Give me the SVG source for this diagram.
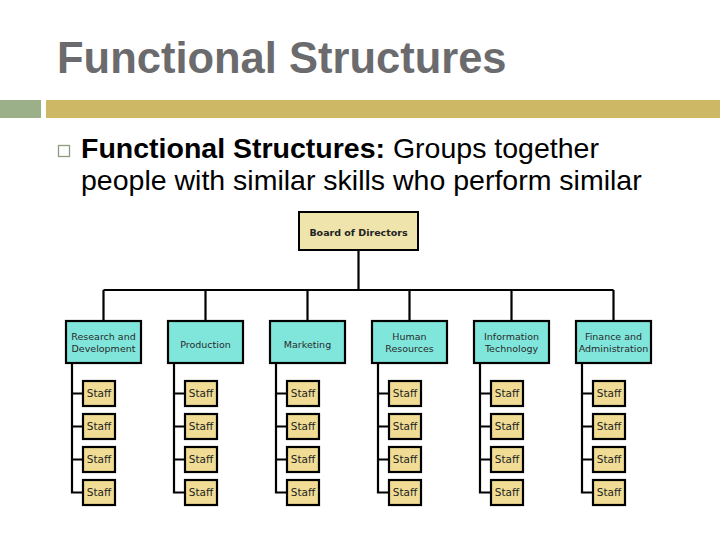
<svg xmlns="http://www.w3.org/2000/svg" width="720" height="540" viewBox="0 0 720 540">
<style>
.title{font-family:"Liberation Sans",Arial,sans-serif;font-weight:bold;font-size:43.5px;fill:#6b6b6e}
.body{font-family:"Liberation Sans",Arial,sans-serif;font-size:28.5px;fill:#000}
.dept rect{fill:#80e6dc;stroke:#000;stroke-width:2.2}
.staff rect{fill:#f0dc94;stroke:#000;stroke-width:2.2}
.board rect{fill:#eee4ac;stroke:#000;stroke-width:2}
.lbl{font-family:"DejaVu Sans",Verdana,sans-serif;font-size:9.5px;fill:#2a2a2a;text-anchor:middle}
.slbl{font-family:"DejaVu Sans",Verdana,sans-serif;font-size:10.5px;fill:#222;text-anchor:middle}
.blbl{font-family:"DejaVu Sans",Verdana,sans-serif;font-size:9.5px;font-weight:bold;fill:#222;text-anchor:middle}
.conn{fill:none;stroke:#000;stroke-width:2.2}
</style>
<rect width="720" height="540" fill="#fff"/>
<text class="title" x="57" y="73">Functional Structures</text>
<rect x="0" y="100" width="41" height="18" fill="#9baf88"/>
<rect x="46" y="100" width="674" height="18" fill="#cdb866"/>
<rect x="58.5" y="145.5" width="11" height="11" fill="none" stroke="#8e9a7e" stroke-width="1.3"/>
<text class="body" x="81" y="158"><tspan font-weight="bold">Functional Structures:</tspan> Groups together</text>
<text class="body" x="81" y="190">people with similar skills who perform similar</text>

<g id="connectors">
  <path class="conn" d="M358.5 250V290" stroke-width="1.3"/>
  <path class="conn" d="M103.5 290H613.5M103.5 290V321M205.5 290V321M307.5 290V321M409.5 290V321M511.5 290V321M613.5 290V321"/>
  <path class="conn" d="M72 363V492.5H83M72 393.5H83M72 426.5H83M72 459.5H83"/>
  <path class="conn" d="M174 363V492.5H185M174 393.5H185M174 426.5H185M174 459.5H185"/>
  <path class="conn" d="M276 363V492.5H287M276 393.5H287M276 426.5H287M276 459.5H287"/>
  <path class="conn" d="M378 363V492.5H389M378 393.5H389M378 426.5H389M378 459.5H389"/>
  <path class="conn" d="M480 363V492.5H491M480 393.5H491M480 426.5H491M480 459.5H491"/>
  <path class="conn" d="M582 363V492.5H593M582 393.5H593M582 426.5H593M582 459.5H593"/>
</g>

<g id="board" class="board"><rect x="299" y="212" width="119" height="38"/><text class="blbl" x="358.5" y="236">Board of Directors</text></g>

<g id="rd" class="dept"><rect x="66" y="321" width="75" height="42"/><text class="lbl" x="103.5" y="340">Research and</text><text class="lbl" x="103.5" y="352">Development</text></g>
<g id="production" class="dept"><rect x="168" y="321" width="75" height="42"/><text class="lbl" x="205.5" y="348">Production</text></g>
<g id="marketing" class="dept"><rect x="270" y="321" width="75" height="42"/><text class="lbl" x="307.5" y="348">Marketing</text></g>
<g id="hr" class="dept"><rect x="372" y="321" width="75" height="42"/><text class="lbl" x="409.5" y="340">Human</text><text class="lbl" x="409.5" y="352">Resources</text></g>
<g id="it" class="dept"><rect x="474" y="321" width="75" height="42"/><text class="lbl" x="511.5" y="340">Information</text><text class="lbl" x="511.5" y="352">Technology</text></g>
<g id="fa" class="dept"><rect x="576" y="321" width="75" height="42"/><text class="lbl" x="613.5" y="340">Finance and</text><text class="lbl" x="613.5" y="352">Administration</text></g>

<g id="s1-1" class="staff"><rect x="83" y="381" width="32" height="25"/><text class="slbl" x="99" y="397">Staff</text></g>
<g id="s1-2" class="staff"><rect x="83" y="414" width="32" height="25"/><text class="slbl" x="99" y="430">Staff</text></g>
<g id="s1-3" class="staff"><rect x="83" y="447" width="32" height="25"/><text class="slbl" x="99" y="463">Staff</text></g>
<g id="s1-4" class="staff"><rect x="83" y="480" width="32" height="25"/><text class="slbl" x="99" y="496">Staff</text></g>

<g id="s2-1" class="staff"><rect x="185" y="381" width="32" height="25"/><text class="slbl" x="201" y="397">Staff</text></g>
<g id="s2-2" class="staff"><rect x="185" y="414" width="32" height="25"/><text class="slbl" x="201" y="430">Staff</text></g>
<g id="s2-3" class="staff"><rect x="185" y="447" width="32" height="25"/><text class="slbl" x="201" y="463">Staff</text></g>
<g id="s2-4" class="staff"><rect x="185" y="480" width="32" height="25"/><text class="slbl" x="201" y="496">Staff</text></g>

<g id="s3-1" class="staff"><rect x="287" y="381" width="32" height="25"/><text class="slbl" x="303" y="397">Staff</text></g>
<g id="s3-2" class="staff"><rect x="287" y="414" width="32" height="25"/><text class="slbl" x="303" y="430">Staff</text></g>
<g id="s3-3" class="staff"><rect x="287" y="447" width="32" height="25"/><text class="slbl" x="303" y="463">Staff</text></g>
<g id="s3-4" class="staff"><rect x="287" y="480" width="32" height="25"/><text class="slbl" x="303" y="496">Staff</text></g>

<g id="s4-1" class="staff"><rect x="389" y="381" width="32" height="25"/><text class="slbl" x="405" y="397">Staff</text></g>
<g id="s4-2" class="staff"><rect x="389" y="414" width="32" height="25"/><text class="slbl" x="405" y="430">Staff</text></g>
<g id="s4-3" class="staff"><rect x="389" y="447" width="32" height="25"/><text class="slbl" x="405" y="463">Staff</text></g>
<g id="s4-4" class="staff"><rect x="389" y="480" width="32" height="25"/><text class="slbl" x="405" y="496">Staff</text></g>

<g id="s5-1" class="staff"><rect x="491" y="381" width="32" height="25"/><text class="slbl" x="507" y="397">Staff</text></g>
<g id="s5-2" class="staff"><rect x="491" y="414" width="32" height="25"/><text class="slbl" x="507" y="430">Staff</text></g>
<g id="s5-3" class="staff"><rect x="491" y="447" width="32" height="25"/><text class="slbl" x="507" y="463">Staff</text></g>
<g id="s5-4" class="staff"><rect x="491" y="480" width="32" height="25"/><text class="slbl" x="507" y="496">Staff</text></g>

<g id="s6-1" class="staff"><rect x="593" y="381" width="32" height="25"/><text class="slbl" x="609" y="397">Staff</text></g>
<g id="s6-2" class="staff"><rect x="593" y="414" width="32" height="25"/><text class="slbl" x="609" y="430">Staff</text></g>
<g id="s6-3" class="staff"><rect x="593" y="447" width="32" height="25"/><text class="slbl" x="609" y="463">Staff</text></g>
<g id="s6-4" class="staff"><rect x="593" y="480" width="32" height="25"/><text class="slbl" x="609" y="496">Staff</text></g>
</svg>
